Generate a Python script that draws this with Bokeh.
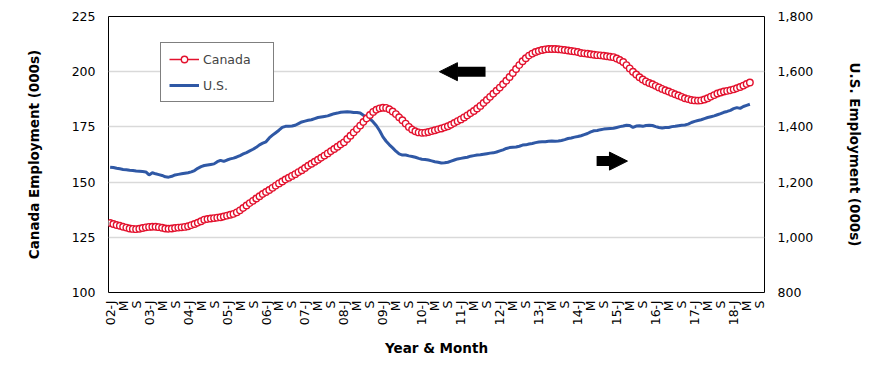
from bokeh.plotting import figure
from bokeh.models import (Range1d, LinearAxis, FixedTicker, NumeralTickFormatter,
                          Legend, LegendItem, Arrow, NormalHead, ColumnDataSource)
from bokeh.embed import file_html
from bokeh.resources import INLINE
from math import pi

# ---------------- data (monthly, Jan 2002 - Jun 2018) ----------------
canada_employment = [
    131.5, 131.0, 130.6, 130.2, 129.8, 129.4, 129.0, 128.8, 128.7, 128.9, 129.2, 129.5,  # 2002
    129.7, 129.8, 129.8, 129.6, 129.3, 129.0, 128.9, 129.0, 129.2, 129.4, 129.5, 129.7,  # 2003
    130.0, 130.5, 131.0, 131.6, 132.3, 133.0, 133.3, 133.5, 133.7, 133.9, 134.1, 134.4,  # 2004
    134.8, 135.2, 135.6, 136.3, 137.2, 138.3, 139.4, 140.5, 141.5, 142.6, 143.6, 144.6,  # 2005
    145.5, 146.4, 147.4, 148.4, 149.4, 150.3, 151.2, 152.0, 152.8, 153.6, 154.5, 155.4,  # 2006
    156.4, 157.4, 158.3, 159.2, 160.1, 161.0, 162.0, 163.0, 164.0, 165.0, 166.0, 167.0,  # 2007
    168.0, 169.5, 171.0, 172.5, 174.0, 175.6, 177.2, 178.8, 180.4, 181.8, 182.8, 183.4,  # 2008
    183.7, 183.6, 183.0, 182.0, 180.8, 179.4, 178.0, 176.5, 175.0, 173.8, 173.0, 172.5,  # 2009
    172.3, 172.4, 172.7, 173.1, 173.5, 173.9, 174.3, 174.8, 175.3, 176.0, 176.8, 177.6,  # 2010
    178.4, 179.3, 180.2, 181.2, 182.2, 183.3, 184.5, 185.8, 187.2, 188.6, 190.0, 191.4,  # 2011
    192.8, 194.3, 195.9, 197.6, 199.4, 201.2, 203.0, 204.7, 206.1, 207.3, 208.2, 208.9,  # 2012
    209.4, 209.8, 210.1, 210.3, 210.3, 210.3, 210.2, 210.0, 209.8, 209.6, 209.4, 209.2,  # 2013
    208.9, 208.5, 208.3, 208.1, 207.9, 207.7, 207.5, 207.4, 207.2, 207.0, 206.8, 206.6,  # 2014
    206.0, 205.3, 204.4, 203.0, 201.5, 200.0, 198.7, 197.5, 196.5, 195.6, 194.9, 194.3,  # 2015
    193.6, 192.9, 192.2, 191.6, 191.0, 190.4, 189.8, 189.2, 188.6, 188.0, 187.6, 187.2,  # 2016
    187.0, 186.9, 187.0, 187.4, 188.0, 188.7, 189.4, 190.1, 190.6, 191.0, 191.3, 191.6,  # 2017
    192.0, 192.5, 193.1, 193.7, 194.4, 195.1,                                            # 2018
]

us_employment = [
    1254, 1253, 1250, 1248, 1246, 1245, 1243, 1242, 1240, 1239, 1238, 1237,  # 2002
    1226, 1234, 1230, 1227, 1224, 1219, 1218, 1221, 1226, 1228, 1230, 1232,  # 2003
    1234, 1237, 1242, 1250, 1256, 1260, 1262, 1264, 1266, 1274, 1279, 1275,  # 2004
    1280, 1284, 1287, 1291, 1296, 1302, 1307, 1313, 1319, 1326, 1335, 1341,  # 2005
    1346, 1360, 1370, 1379, 1388, 1398, 1402, 1402, 1403, 1406, 1412, 1418,  # 2006
    1421, 1424, 1426, 1430, 1434, 1436, 1438, 1440, 1444, 1448, 1450, 1453,  # 2007
    1454, 1455, 1454, 1452, 1452, 1450, 1442, 1437, 1429, 1418, 1404, 1386,  # 2008
    1364, 1348, 1335, 1324, 1312, 1302, 1298, 1298, 1295, 1293, 1290, 1286,  # 2009
    1283, 1282, 1280, 1277, 1274, 1272, 1269, 1270, 1272, 1276, 1280, 1284,  # 2010
    1286, 1288, 1290, 1294, 1296, 1298, 1299, 1301, 1303, 1305, 1306, 1309,  # 2011
    1313, 1317, 1322, 1325, 1326, 1327, 1330, 1334, 1335, 1338, 1340, 1343,  # 2012
    1345, 1346, 1346, 1348, 1349, 1348, 1349, 1351, 1354, 1358, 1360, 1363,  # 2013
    1365, 1368, 1372, 1376, 1382, 1386, 1387, 1390, 1392, 1393, 1394, 1395,  # 2014
    1398, 1401, 1403, 1406, 1405, 1398, 1403, 1404, 1402, 1405, 1406, 1405,  # 2015
    1401, 1398, 1396, 1398, 1398, 1401, 1402, 1404, 1406, 1407, 1410, 1416,  # 2016
    1420, 1423, 1426, 1430, 1434, 1437, 1440, 1444, 1448, 1453, 1456, 1460,  # 2017
    1466, 1470, 1467, 1474, 1478, 1482,                                      # 2018
]

# category axis: Jan 2002 .. Oct 2018, label every 4th month
n_categories = 202
tick_labels = [
    "02-J", "M", "S", "03-J", "M", "S", "04-J", "M", "S", "05-J", "M", "S",
    "06-J", "M", "S", "07-J", "M", "S", "08-J", "M", "S", "09-J", "M", "S",
    "10-J", "M", "S", "11-J", "M", "S", "12-J", "M", "S", "13-J", "M", "S",
    "14-J", "M", "S", "15-J", "M", "S", "16-J", "M", "S", "17-J", "M", "S",
    "18-J", "M", "S",
]
label_step = 4

left_ticks = [100, 125, 150, 175, 200, 225]
right_ticks = [800, 1000, 1200, 1400, 1600, 1800]

FONT = "DejaVu Sans"
RED = "#E3122E"
BLUE = "#2F58A5"

# ---------------- figure ----------------
p = figure(width=870, height=365, output_backend="svg", toolbar_location=None,
           x_range=Range1d(-0.5, n_categories - 0.5), y_range=Range1d(100, 225),
           min_border_left=108, min_border_right=106, min_border_top=16, min_border_bottom=73)
p.extra_y_ranges = {"us": Range1d(800, 1800)}

p.background_fill_color = "white"
p.border_fill_color = "white"
p.outline_line_color = "black"
p.outline_line_width = 1

# grid
p.xgrid.grid_line_color = None
p.ygrid.ticker = FixedTicker(ticks=left_ticks[1:-1])
p.ygrid.grid_line_color = "#d9d9d9"
p.ygrid.grid_line_width = 1.5

# data sources
src_ca = ColumnDataSource(dict(x=list(range(len(canada_employment))), y=canada_employment))
src_us = ColumnDataSource(dict(x=list(range(len(us_employment))), y=us_employment))

us_line = p.line("x", "y", source=src_us, y_range_name="us", line_color=BLUE, line_width=3)
ca_line = p.line("x", "y", source=src_ca, line_color=RED, line_width=1.5)
ca_pts = p.scatter("x", "y", source=src_ca, marker="circle", size=6.5,
                   line_color=RED, fill_color="white", line_width=1.4)

# x axis
xax = p.xaxis[0]
tick_pos = [i * label_step for i in range(len(tick_labels))]
xax.ticker = FixedTicker(ticks=tick_pos)
xax.major_label_overrides = {t: lab for t, lab in zip(tick_pos, tick_labels)}
xax.major_label_orientation = pi / 2
xax.axis_label = "Year & Month"
xax.major_label_standoff = 8
xax.axis_label_standoff = 12

# left axis
yax = p.yaxis[0]
yax.ticker = FixedTicker(ticks=left_ticks)
yax.axis_label = "Canada Employment (000s)"
yax.major_label_standoff = 13
yax.axis_label_standoff = 27

# right axis
rax = LinearAxis(y_range_name="us", ticker=FixedTicker(ticks=right_ticks),
                 formatter=NumeralTickFormatter(format="0,0"),
                 axis_label="U.S. Employment (000s)")
rax.major_label_standoff = 13
rax.axis_label_standoff = 31
p.add_layout(rax, "right")

for ax in [xax, yax, rax]:
    ax.axis_line_color = None
    ax.major_tick_line_color = None
    ax.minor_tick_line_color = None
    ax.major_tick_out = 0
    ax.major_tick_in = 0
    ax.major_label_text_font = FONT
    ax.major_label_text_font_size = "12.5px"
    ax.major_label_text_color = "black"
    ax.axis_label_text_font = FONT
    ax.axis_label_text_font_size = "13.5px"
    ax.axis_label_text_font_style = "bold"
    ax.axis_label_text_color = "black"

# arrows pointing to the relevant axis
p.add_layout(Arrow(end=NormalHead(size=18, fill_color="black", line_color="black", line_width=1),
                   x_start=115.6, y_start=200, x_end=101.4, y_end=200,
                   line_color="black", line_width=10))
p.add_layout(Arrow(end=NormalHead(size=18, fill_color="black", line_color="black", line_width=1),
                   x_start=149.8, y_start=1276, x_end=159.3, y_end=1276, y_range_name="us",
                   line_color="black", line_width=10))

# legend
legend = Legend(items=[LegendItem(label="Canada", renderers=[ca_line, ca_pts]),
                       LegendItem(label="U.S.", renderers=[us_line])],
                location=(52, 190))
legend.border_line_color = "black"
legend.border_line_width = 1
legend.background_fill_color = "white"
legend.background_fill_alpha = 1
legend.padding = 8
legend.spacing = 10
legend.glyph_width = 30
legend.glyph_height = 16
legend.label_height = 16
legend.label_width = 62
legend.label_standoff = 4
legend.label_text_font = FONT
legend.label_text_font_size = "12.5px"
legend.margin = 0
p.add_layout(legend)

open("out.html", "w").write(file_html(p, INLINE))
